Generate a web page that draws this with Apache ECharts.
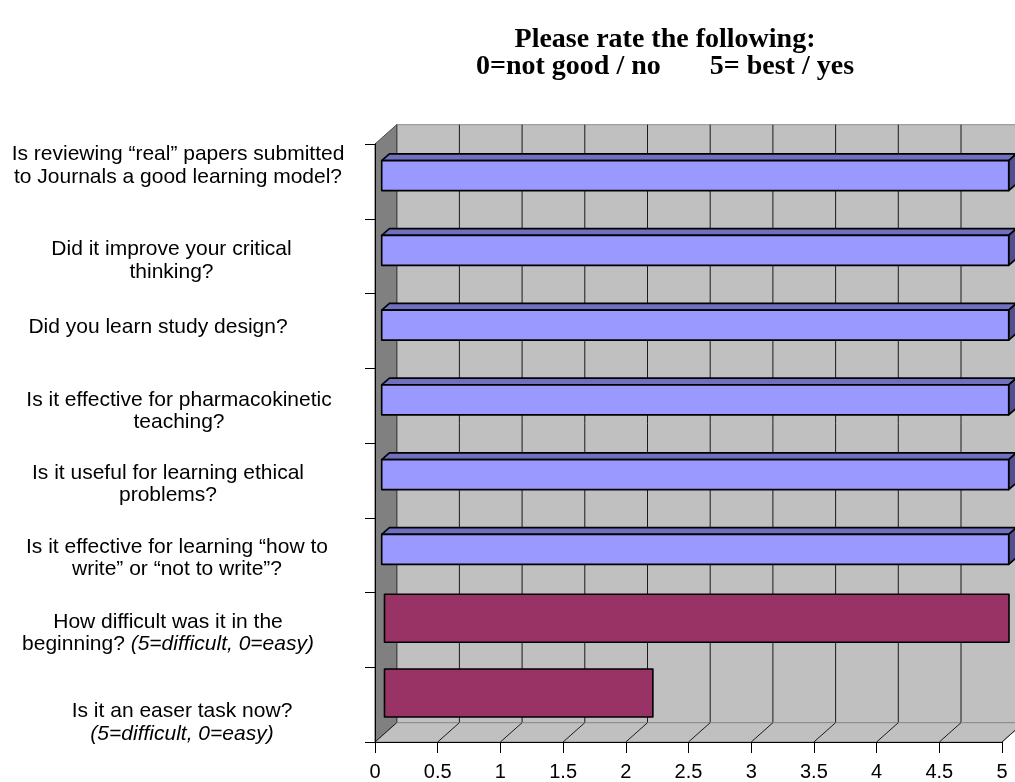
<!DOCTYPE html>
<html><head><meta charset="utf-8">
<script src="https://cdn.jsdelivr.net/npm/echarts@6/dist/echarts.min.js"></script>
<style>html,body{margin:0;padding:0;background:#fff}#c{width:1015px;height:782px}</style>
</head><body><div id="c"></div>
<script>
// ---- data ----
const categories = [
  'Is reviewing “real” papers submitted\nto Journals a good learning model?',
  'Did it improve your critical\nthinking?',
  'Did you learn study design?',
  'Is it effective for pharmacokinetic\nteaching?',
  'Is it useful for learning ethical\nproblems?',
  'Is it effective for learning “how to\nwrite” or “not to write”?',
  'How difficult was it in the\nbeginning? (5=difficult, 0=easy)',
  'Is it an easer task now?\n(5=difficult, 0=easy)'
];
const blueValues   = [5, 5, 5, 5, 5, 5, null, null];
const maroonValues = [null, null, null, null, null, null, 4.98, 2.14];
const xTicks = [0, 0.5, 1, 1.5, 2, 2.5, 3, 3.5, 4, 4.5, 5];
const titleLines = ['Please rate the following:', '0=not good / no       5= best / yes'];
const italicPart = '(5=difficult, 0=easy)';

// ---- layout / style ----
const SANS = "'Liberation Sans', Arial, sans-serif";
const LFS = 21, LLH = 22.5;
const WALL_DX = 21.7, WALL_DY = 19.3;
const labelLayout = [
  {dx: 0,   dy: -15.5},
  {dx: -6.5,dy: 4.5},
  {dx: -20, dy: -3.5},
  {dx: 1,   dy: 5.5},
  {dx: -10, dy: 4},
  {dx: -1,  dy: 3},
  {dx: -10, dy: 3.5},
  {dx: 4,   dy: 18}
];
const blueStyle = {ox: 6.7, oy: 5.8, h: 30, dpx: 7.7, dpy: 6.7,
  front: '#9999ff', top: '#7070c0', side: '#505090'};
const maroonStyle = {ox: 9.5, oy: 11.7, h: 48, dpx: 0, dpy: 0,
  front: '#993366'};

function buildLabel(value) {
  return value.split('\n').map(function (line) {
    const k = line.indexOf(italicPart);
    if (k < 0) return '{n|' + line + '}';
    let s = '';
    if (k > 0) s += '{n|' + line.slice(0, k) + '}';
    s += '{i|' + italicPart + '}';
    return s;
  }).join('\n');
}

const yData = categories.map(function (c, i) {
  const L = labelLayout[i];
  const pad = [L.dy > 0 ? 2 * L.dy : 0, L.dx < 0 ? -2 * L.dx : 0,
               L.dy < 0 ? -2 * L.dy : 0, L.dx > 0 ? 2 * L.dx : 0];
  return {value: c, textStyle: {padding: pad, align: 'center', verticalAlign: 'middle'}};
});

function wallItem(params, api) {
  const r = params.coordSys;
  const x0 = r.x, x1 = r.x + r.width, yt = r.y, yb = r.y + r.height;
  const ch = [];
  ch.push({type: 'rect', shape: {x: x0 + WALL_DX, y: yt - WALL_DY, width: r.width, height: r.height},
    style: {fill: '#c0c0c0', stroke: '#8a8a8a', lineWidth: 1}});
  xTicks.forEach(function (t) {
    const x = api.coord([t, 0])[0] + WALL_DX;
    ch.push({type: 'line', shape: {x1: x, y1: yt - WALL_DY, x2: x, y2: yb - WALL_DY},
      style: {stroke: '#1a1a1a', lineWidth: 1}});
  });
  ch.push({type: 'polygon', shape: {points: [[x0, yt], [x0 + WALL_DX, yt - WALL_DY],
      [x0 + WALL_DX, yb - WALL_DY], [x0, yb]]},
    style: {fill: '#808080', stroke: '#4a4a4a', lineWidth: 1}});
  ch.push({type: 'polygon', shape: {points: [[x0, yb], [x0 + WALL_DX, yb - WALL_DY],
      [x1 + WALL_DX, yb - WALL_DY], [x1, yb]]},
    style: {fill: '#c0c0c0', stroke: '#8a8a8a', lineWidth: 1}});
  xTicks.forEach(function (t) {
    const x = api.coord([t, 0])[0];
    ch.push({type: 'line', shape: {x1: x, y1: yb, x2: x + WALL_DX, y2: yb - WALL_DY},
      style: {stroke: '#1a1a1a', lineWidth: 1}});
  });
  return {type: 'group', children: ch};
}

function barRenderer(st) {
  return function (params, api) {
    const v = api.value(0), ci = api.value(1);
    const p0 = api.coord([0, ci]), p1 = api.coord([v, ci]);
    const xl = p0[0] + st.ox, xr = p1[0] + st.ox;
    const yc = p0[1] - st.oy;
    const yt = yc - st.h / 2, yb = yc + st.h / 2;
    const ch = [];
    const bs = {stroke: '#000', lineWidth: 1.6, lineJoin: 'round'};
    if (st.dpx) {
      ch.push({type: 'polygon', shape: {points: [[xl, yt], [xl + st.dpx, yt - st.dpy],
          [xr + st.dpx, yt - st.dpy], [xr, yt]]},
        style: Object.assign({fill: st.top}, bs)});
      ch.push({type: 'polygon', shape: {points: [[xr, yt], [xr + st.dpx, yt - st.dpy],
          [xr + st.dpx, yb - st.dpy], [xr, yb]]},
        style: Object.assign({fill: st.side}, bs)});
    }
    ch.push({type: 'rect', shape: {x: xl, y: yt, width: xr - xl, height: yb - yt},
      style: Object.assign({fill: st.front}, bs)});
    return {type: 'group', children: ch};
  };
}

function toPairs(arr) {
  const out = [];
  arr.forEach(function (v, i) { if (v != null) out.push([v, i]); });
  return out;
}

function richStyle(italic) {
  return {fontFamily: SANS, fontSize: LFS, lineHeight: LLH, color: '#000', align: 'center',
    fontStyle: italic ? 'italic' : 'normal'};
}

const chart = echarts.init(document.getElementById('c'), null, {renderer: 'canvas'});
chart.setOption({
  animation: false,
  backgroundColor: '#ffffff',
  graphic: [{
    type: 'text', x: 665, y: 26, z: 10,
    style: {text: titleLines.join('\n'), align: 'center', verticalAlign: 'top',
      font: "bold 28px 'Liberation Serif', 'Times New Roman', serif", lineHeight: 27, fill: '#000'}
  }],
  grid: {left: 375, top: 144, width: 627, height: 598, containLabel: false, outerBoundsMode: 'none'},
  xAxis: {
    type: 'value', min: 0, max: 5, interval: 0.5, z: 5,
    axisLine: {show: true, lineStyle: {color: '#000', width: 1}},
    axisTick: {show: true, length: 11, lineStyle: {color: '#000'}},
    splitLine: {show: false},
    axisLabel: {color: '#000', fontFamily: SANS, fontSize: 20, margin: 20,
      formatter: function (v) { return String(v); }}
  },
  yAxis: {
    type: 'category', inverse: true, data: yData, z: 5,
    axisLine: {show: true, lineStyle: {color: '#000', width: 1}},
    axisTick: {show: true, length: 10, lineStyle: {color: '#000'}},
    splitLine: {show: false},
    axisLabel: {interval: 0, color: '#000', fontFamily: SANS, fontSize: LFS, margin: 197,
      align: 'center', verticalAlign: 'middle', formatter: buildLabel,
      rich: {n: richStyle(false), i: richStyle(true)}}
  },
  series: [
    {type: 'custom', name: 'walls', z: 1, clip: false, silent: true,
      renderItem: wallItem, data: [[0, 0]], encode: {x: 0, y: 1}},
    {type: 'custom', name: 'Rating', z: 3, clip: false,
      renderItem: barRenderer(blueStyle), data: toPairs(blueValues), encode: {x: 0, y: 1}},
    {type: 'custom', name: 'Difficulty', z: 4, clip: false,
      renderItem: barRenderer(maroonStyle), data: toPairs(maroonValues), encode: {x: 0, y: 1}}
  ]
});
</script>
</body></html>
